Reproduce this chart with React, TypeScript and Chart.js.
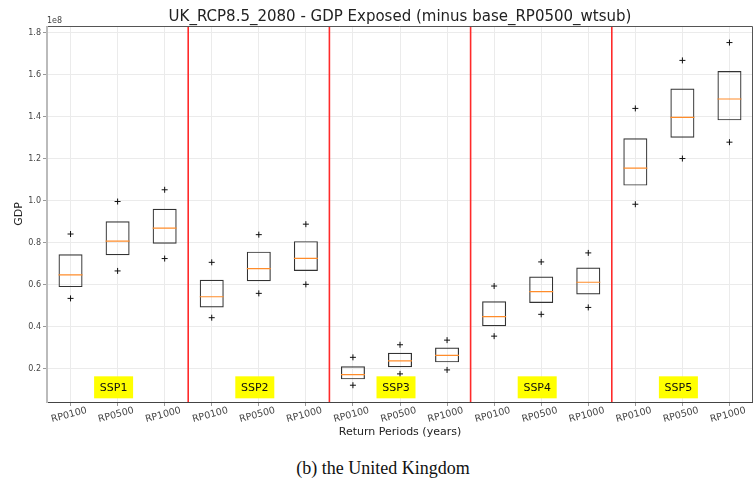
import React, { useEffect, useRef } from "react";
import { Chart, registerables } from "chart.js";
Chart.register(...registerables);

const categories = [
  "RP0100", "RP0500", "RP1000",
  "RP0100", "RP0500", "RP1000",
  "RP0100", "RP0500", "RP1000",
  "RP0100", "RP0500", "RP1000",
  "RP0100", "RP0500", "RP1000",
];
const groups = ["SSP1", "SSP2", "SSP3", "SSP4", "SSP5"];
// values in units of 1e8
const q3 = [0.744, 0.902, 0.961, 0.623, 0.757, 0.807, 0.21, 0.275, 0.3, 0.52, 0.638, 0.681, 1.298, 1.535, 1.618];
const q1 = [0.588, 0.74, 0.795, 0.491, 0.616, 0.665, 0.148, 0.206, 0.229, 0.401, 0.512, 0.553, 1.072, 1.3, 1.383];
const medians = [0.646, 0.807, 0.869, 0.542, 0.676, 0.725, 0.171, 0.236, 0.262, 0.447, 0.566, 0.611, 1.155, 1.397, 1.485];
const fliersHigh = [0.841, 0.996, 1.052, 0.706, 0.838, 0.888, 0.253, 0.313, 0.335, 0.593, 0.708, 0.751, 1.44, 1.669, 1.754];
const fliersLow = [0.534, 0.665, 0.724, 0.442, 0.558, 0.601, 0.12, 0.174, 0.193, 0.354, 0.458, 0.491, 0.983, 1.201, 1.279];
const yTicks = [0.2, 0.4, 0.6, 0.8, 1.0, 1.2, 1.4, 1.6, 1.8];
const yMin = 0.04;
const yMax = 1.833;
const groupLabelY = 0.11;
const title = "UK_RCP8.5_2080 - GDP Exposed (minus base_RP0500_wtsub)";
const xTitle = "Return Periods (years)";
const yTitle = "GDP";
const caption = "(b) the United Kingdom";

const FONT = "'DejaVu Sans', sans-serif";

const decorPlugin = {
  id: "decor",
  beforeDatasetsDraw(chart: any) {
    const { ctx, chartArea, scales } = chart;
    const xs = scales.x;
    ctx.save();
    ctx.strokeStyle = "#ff2a2a";
    ctx.lineWidth = 1.6;
    for (let g = 0; g < groups.length - 1; g++) {
      const a = xs.getPixelForValue(g * 3 + 2);
      const b = xs.getPixelForValue(g * 3 + 3);
      const x = (a + b) / 2;
      ctx.beginPath();
      ctx.moveTo(x, chartArea.top);
      ctx.lineTo(x, chartArea.bottom);
      ctx.stroke();
    }
    ctx.restore();
  },
  afterDraw(chart: any) {
    const { ctx, chartArea, scales } = chart;
    const xs = scales.x;
    const ys = scales.y;
    const { left, right, top, bottom } = chartArea;
    ctx.save();
    // frame
    ctx.strokeStyle = "#555";
    ctx.lineWidth = 1;
    ctx.beginPath();
    ctx.moveTo(left, top + 0.5);
    ctx.lineTo(right - 0.5, top + 0.5);
    ctx.lineTo(right - 0.5, bottom);
    ctx.stroke();
    ctx.strokeStyle = "#444";
    ctx.beginPath();
    ctx.moveTo(left, bottom + 0.5);
    ctx.lineTo(right, bottom + 0.5);
    ctx.stroke();
    ctx.strokeStyle = "#bbb";
    ctx.lineWidth = 2;
    ctx.beginPath();
    ctx.moveTo(left, top);
    ctx.lineTo(left, bottom + 1);
    ctx.stroke();

    // x tick labels
    ctx.fillStyle = "#444";
    ctx.font = `9.5px ${FONT}`;
    ctx.textAlign = "center";
    ctx.textBaseline = "middle";
    categories.forEach((c, i) => {
      const x = xs.getPixelForValue(i);
      ctx.save();
      ctx.translate(x - 1.5, bottom + 13);
      ctx.rotate((-15 * Math.PI) / 180);
      ctx.fillText(c, 0, 0);
      ctx.restore();
    });

    // group labels
    ctx.font = `11px ${FONT}`;
    groups.forEach((g, gi) => {
      const cx = xs.getPixelForValue(gi * 3 + 1) - 4;
      const cy = ys.getPixelForValue(groupLabelY);
      ctx.fillStyle = "#ffff00";
      ctx.fillRect(cx - 19.5, cy - 11, 39, 22);
      ctx.fillStyle = "#111";
      ctx.textAlign = "center";
      ctx.textBaseline = "middle";
      ctx.fillText(g, cx, cy + 0.5);
    });

    // title
    ctx.fillStyle = "#222";
    ctx.font = `15px ${FONT}`;
    ctx.textAlign = "center";
    ctx.textBaseline = "alphabetic";
    ctx.fillText(title, (left + right) / 2, 21);

    // offset text
    ctx.fillStyle = "#444";
    ctx.font = `8px ${FONT}`;
    ctx.textAlign = "left";
    ctx.fillText("1e8", left, 23);

    // axis titles
    ctx.fillStyle = "#222";
    ctx.font = `11px ${FONT}`;
    ctx.textAlign = "center";
    ctx.fillText(xTitle, (left + right) / 2, 435);
    ctx.save();
    ctx.translate(22, (top + bottom) / 2);
    ctx.rotate(-Math.PI / 2);
    ctx.textBaseline = "alphabetic";
    ctx.fillText(yTitle, 0, 0);
    ctx.restore();
    ctx.restore();
  },
};

export default function App() {
  const ref = useRef<HTMLCanvasElement | null>(null);
  useEffect(() => {
    document.body.style.margin = "0";
    const canvas = ref.current!;
    const chart = new Chart(canvas, {
      type: "bar",
      data: {
        labels: categories,
        datasets: [
          {
            type: "line",
            data: fliersHigh,
            showLine: false,
            pointStyle: "cross",
            pointRadius: 3,
            borderColor: "#111",
            borderWidth: 1,
            order: 0,
          } as any,
          {
            type: "line",
            data: fliersLow,
            showLine: false,
            pointStyle: "cross",
            pointRadius: 3,
            borderColor: "#111",
            borderWidth: 1,
            order: 0,
          } as any,
          {
            type: "line",
            data: medians,
            showLine: false,
            pointStyle: "line",
            pointRadius: 12,
            borderColor: "#ff8c2a",
            borderWidth: 1.2,
            order: 1,
          } as any,
          {
            type: "bar",
            data: q1.map((v, i) => [v, q3[i]]),
            backgroundColor: "rgba(0,0,0,0)",
            borderColor: "#333",
            borderWidth: 1.2,
            borderSkipped: false,
            barPercentage: 0.51,
            categoryPercentage: 1,
            order: 2,
          } as any,
        ],
      },
      options: {
        animation: false,
        responsive: false,
        layout: { autoPadding: false, padding: { top: 26, right: 1, left: 0, bottom: 0 } },
        plugins: { legend: { display: false }, tooltip: { enabled: false }, title: { display: false } },
        scales: {
          x: {
            type: "category",
            offset: true,
            grid: { offset: false, color: "#ebebeb", tickLength: 4, tickColor: "#999" },
            border: { display: false },
            ticks: { display: false },
            afterFit: (s: any) => {
              s.height = 43;
            },
          },
          y: {
            type: "linear",
            min: yMin,
            max: yMax,
            grid: { color: "#ebebeb", tickLength: 4, tickColor: "#999" },
            border: { display: false },
            afterBuildTicks: (s: any) => {
              s.ticks = yTicks.map((v) => ({ value: v }));
            },
            ticks: {
              color: "#444",
              font: { family: "DejaVu Sans", size: 8 },
              padding: 2,
              callback: (v: any) => Number(v).toFixed(1),
            },
            afterFit: (s: any) => {
              s.width = 47;
            },
          },
        },
      } as any,
      plugins: [decorPlugin],
    });
    return () => chart.destroy();
  }, []);
  return (
    <div style={{ position: "relative", width: 754, height: 486, background: "#fff" }}>
      <canvas ref={ref} width={754} height={445} style={{ display: "block", width: 754, height: 445 }} />
      <div
        style={{
          position: "absolute",
          left: 6,
          width: 754,
          top: 456,
          textAlign: "center",
          fontFamily: "'Liberation Serif', serif",
          fontSize: 18,
          lineHeight: "24px",
          color: "#111",
        }}
      >
        {caption}
      </div>
    </div>
  );
}
